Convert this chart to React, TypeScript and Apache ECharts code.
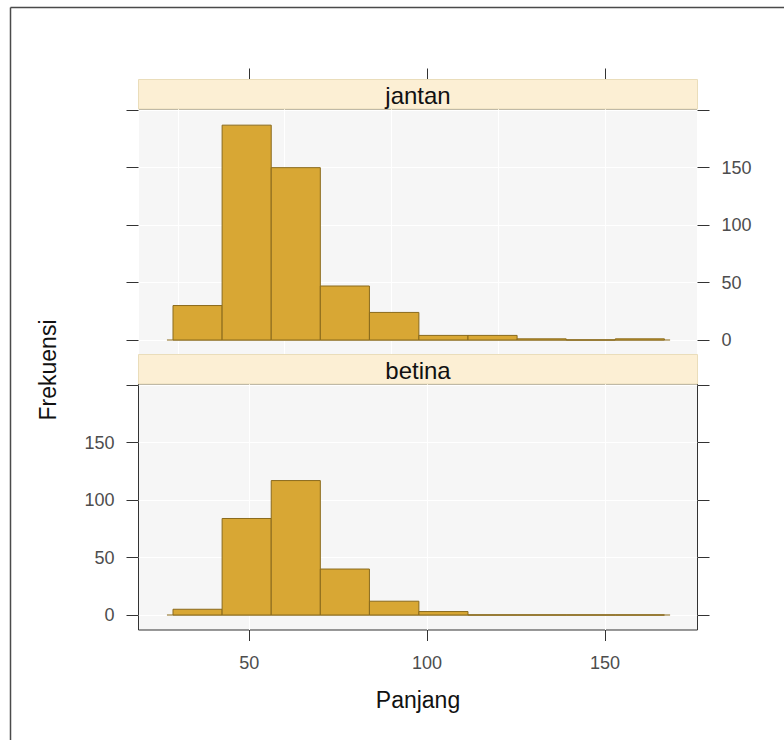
import React, { useEffect, useRef } from "react";
import * as echarts from "echarts";

const binEdges = [28.6, 42.4, 56.2, 70.0, 83.8, 97.7, 111.5, 125.3, 139.1, 152.9, 166.7];
const jantanCounts = [30, 187, 150, 47, 24, 4, 4, 1, 0, 1];
const betinaCounts = [5, 84, 117, 40, 12, 3, 0, 0, 0, 0];
const panelNames = ["jantan", "betina"];
const xTicks = [50, 100, 150];
const yTicks = [0, 50, 100, 150, 200];
const yLabels = [0, 50, 100, 150];
const baselineRange = [26.9, 168.3];
const xTitle = "Panjang";
const yTitle = "Frekuensi";

const X_MIN = 18.9;
const X_MAX = 176;
const Y_MIN = -13.05;
const Y_MAX = 201.05;

const FONT = "'Liberation Sans', Arial, sans-serif";
const BAR_FILL = "#D8A734";
const BAR_STROKE = "#8A6A1C";
const TICK_COLOR = "#333333";
const LABEL_COLOR = "#4D4D4D";

const GRID_LEFT = 138.5;
const GRID_W = 559;
const PANEL_H = 246;
const TOP_PANEL_Y = 109;
const BOT_PANEL_Y = 384;
const STRIP_H = 29.5;

function binData(counts: number[]) {
  return counts.map((c, i) => [binEdges[i], binEdges[i + 1], c]);
}

export default function App() {
  const ref = useRef<HTMLDivElement>(null);

  useEffect(() => {
    if (!ref.current) return;
    const chart = echarts.init(ref.current, undefined, { renderer: "svg" });

    const renderItem = (params: any, api: any) => {
      const x0 = api.value(0);
      const x1 = api.value(1);
      const y = api.value(2);
      const p0 = api.coord([x0, 0]);
      const p1 = api.coord([x1, y]);
      return {
        type: "rect",
        shape: { x: p0[0], y: p1[1], width: p1[0] - p0[0], height: p0[1] - p1[1] },
        style: { fill: BAR_FILL, stroke: BAR_STROKE, lineWidth: 1 },
      };
    };

    const xAxisBase = {
      type: "value",
      min: X_MIN,
      max: X_MAX,
      axisLine: { show: false, onZero: false },
      axisTick: { show: true, length: 11, customValues: xTicks, lineStyle: { color: TICK_COLOR, width: 1 } },
      splitLine: { show: true, lineStyle: { color: "#FFFFFF", width: 1 } },
    };

    const yAxisBase = {
      type: "value",
      min: Y_MIN,
      max: Y_MAX,
      axisLine: { show: false, onZero: false },
      axisTick: { show: true, length: 12, customValues: yTicks, lineStyle: { color: TICK_COLOR, width: 1 } },
    };

    const labelStyle = {
      fontFamily: FONT,
      fontSize: 18,
      color: LABEL_COLOR,
    };

    const strips = panelNames.map((name, i) => {
      const y = i === 0 ? TOP_PANEL_Y - STRIP_H : BOT_PANEL_Y - STRIP_H;
      return [
        {
          type: "rect",
          shape: { x: GRID_LEFT, y, width: GRID_W, height: STRIP_H },
          style: { fill: "#FCEFD4", stroke: "#EADDBA", lineWidth: 1 },
          z: 10,
        },
        {
          type: "text",
          x: GRID_LEFT + GRID_W / 2,
          y: y + STRIP_H / 2 + 1,
          style: {
            text: name,
            fontFamily: FONT,
            fontSize: 24,
            fill: "#111111",
            align: "center",
            verticalAlign: "middle",
          },
          z: 11,
        },
      ];
    }).flat();

    const option: any = {
      animation: false,
      backgroundColor: "#FFFFFF",
      grid: [
        {
          left: GRID_LEFT, top: TOP_PANEL_Y, width: GRID_W, height: PANEL_H,
          show: true, backgroundColor: "#F6F6F6", borderColor: "#333333", borderWidth: 1,
        },
        {
          left: GRID_LEFT, top: BOT_PANEL_Y, width: GRID_W, height: PANEL_H,
          show: true, backgroundColor: "#F6F6F6", borderColor: "#333333", borderWidth: 1,
        },
      ],
      xAxis: [
        {
          ...xAxisBase,
          gridIndex: 0,
          position: "top",
          offset: STRIP_H,
          axisLabel: { show: false },
          splitLine: { show: false },
        },
        {
          ...xAxisBase,
          gridIndex: 0,
          position: "bottom",
          axisTick: { show: false },
          axisLabel: { show: false },
        },
        {
          ...xAxisBase,
          gridIndex: 1,
          position: "bottom",
          axisLabel: { show: true, customValues: xTicks, margin: 24, ...labelStyle },
        },
      ],
      yAxis: [
        {
          ...yAxisBase,
          gridIndex: 0,
          position: "left",
          axisLabel: { show: false },
          splitLine: { show: true, lineStyle: { color: "#FFFFFF", width: 1 } },
        },
        {
          ...yAxisBase,
          gridIndex: 0,
          position: "right",
          axisLabel: { show: true, customValues: yLabels, margin: 24, ...labelStyle },
          splitLine: { show: false },
        },
        {
          ...yAxisBase,
          gridIndex: 1,
          position: "left",
          axisLabel: { show: true, customValues: yLabels, margin: 24, ...labelStyle },
          splitLine: { show: true, lineStyle: { color: "#FFFFFF", width: 1 } },
        },
        {
          ...yAxisBase,
          gridIndex: 1,
          position: "right",
          axisLabel: { show: false },
          splitLine: { show: false },
        },
      ],
      series: [
        {
          type: "line",
          xAxisIndex: 1,
          yAxisIndex: 0,
          data: [[baselineRange[0], 0], [baselineRange[1], 0]],
          symbol: "none",
          lineStyle: { color: BAR_STROKE, width: 1 },
          silent: true,
          z: 1,
        },
        {
          type: "custom",
          xAxisIndex: 1,
          yAxisIndex: 0,
          renderItem,
          data: binData(jantanCounts),
          encode: { x: [0, 1], y: 2 },
          z: 2,
        },
        {
          type: "line",
          xAxisIndex: 2,
          yAxisIndex: 2,
          data: [[baselineRange[0], 0], [baselineRange[1], 0]],
          symbol: "none",
          lineStyle: { color: BAR_STROKE, width: 1 },
          silent: true,
          z: 1,
        },
        {
          type: "custom",
          xAxisIndex: 2,
          yAxisIndex: 2,
          renderItem,
          data: binData(betinaCounts),
          encode: { x: [0, 1], y: 2 },
          z: 2,
        },
      ],
      graphic: [
        ...strips,
        {
          type: "text",
          x: 48,
          y: 370,
          rotation: Math.PI / 2,
          style: {
            text: yTitle,
            fontFamily: FONT,
            fontSize: 23,
            fill: "#111111",
            align: "center",
            verticalAlign: "middle",
          },
        },
        {
          type: "text",
          x: GRID_LEFT + GRID_W / 2,
          y: 700,
          style: {
            text: xTitle,
            fontFamily: FONT,
            fontSize: 23,
            fill: "#111111",
            align: "center",
            verticalAlign: "middle",
          },
        },
        {
          type: "line",
          shape: { x1: 10.5, y1: 7.5, x2: 784, y2: 7.5 },
          style: { stroke: "#4A4A4A", lineWidth: 1.5 },
        },
        {
          type: "line",
          shape: { x1: 10.5, y1: 7.5, x2: 10.5, y2: 740 },
          style: { stroke: "#4A4A4A", lineWidth: 1.5 },
        },
      ],
    };

    chart.setOption(option);
    return () => chart.dispose();
  }, []);

  return (
    <div
      ref={ref}
      style={{ position: "fixed", left: 0, top: 0, width: 784, height: 740, background: "#FFFFFF" }}
    />
  );
}
